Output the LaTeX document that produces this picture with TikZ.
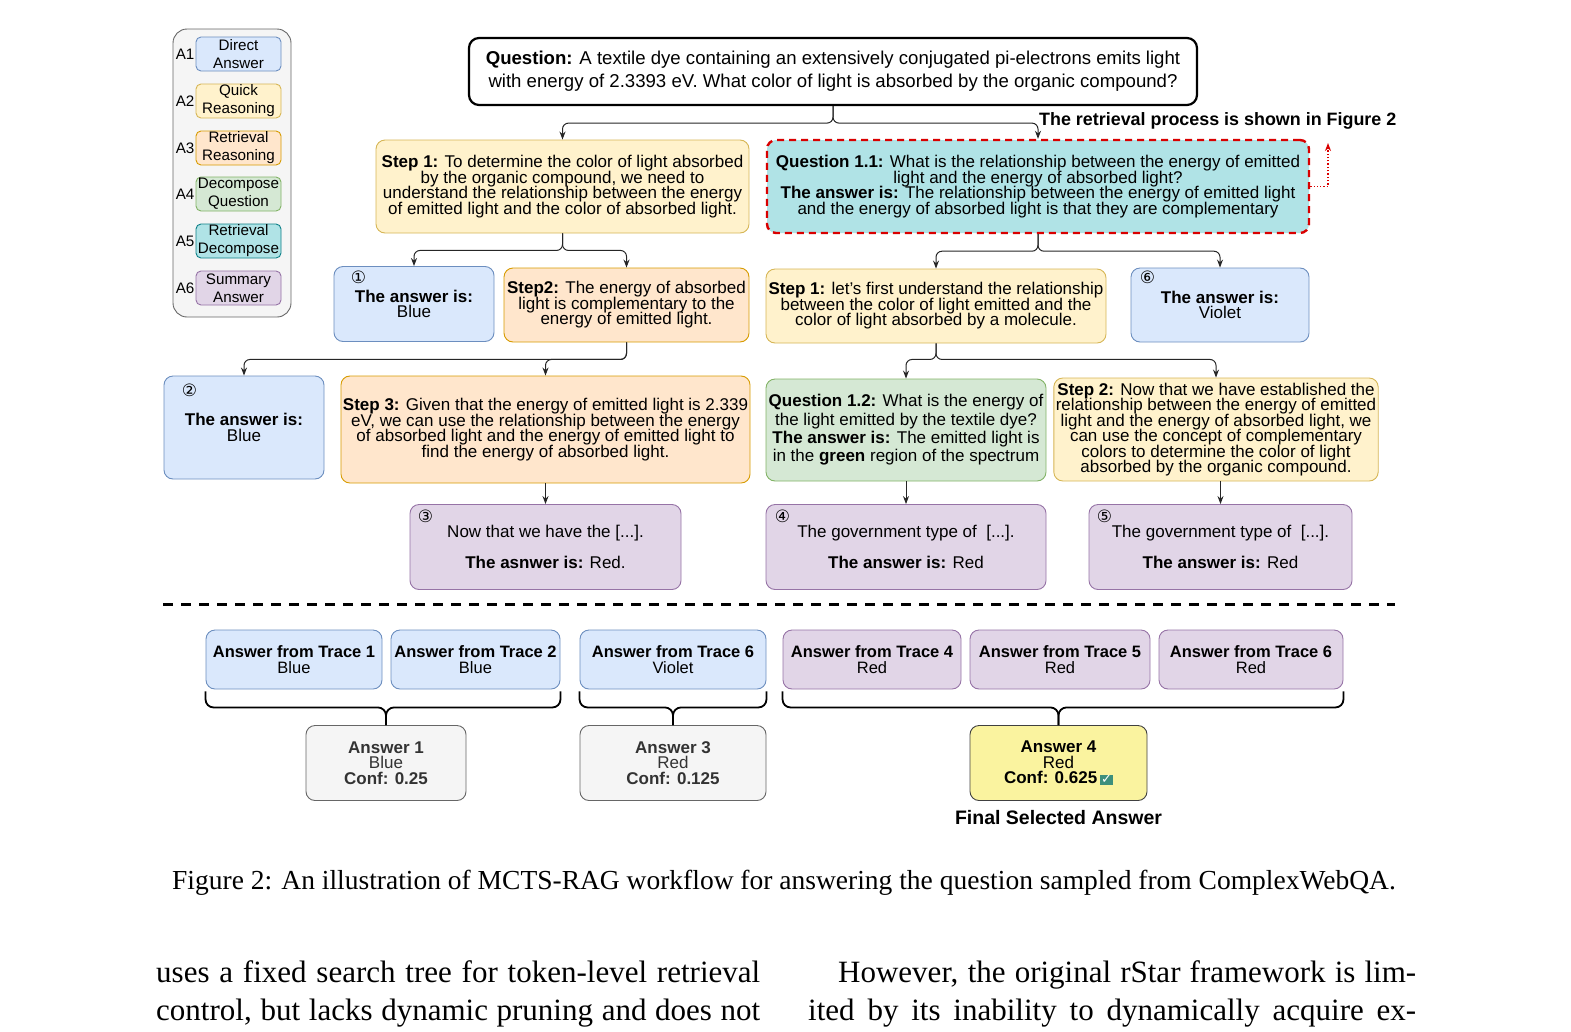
\documentclass[tikz,border=0pt]{standalone}
\usepackage{fontspec}
\setmainfont{Liberation Sans}
\newfontfamily\capfont{Liberation Serif}
\newfontfamily\symfont{DejaVu Sans}
\usepackage{tikz}
\newcommand{\boxfont}{\fontsize{17}{15.5}\selectfont\lineskiplimit=-20pt}
\newcommand{\qfont}{\fontsize{18.6}{23}\selectfont}
\newcommand{\legfont}{\fontsize{15.2}{18}\selectfont}
\newcommand{\numfont}{\symfont\fontsize{17}{17}\selectfont}
\newcommand{\bodyfont}{\capfont\fontsize{31}{38}\selectfont}
\newcommand{\chkbox}{{\setlength{\fboxsep}{1pt}\colorbox{chkGreen}{\color{white}\symfont\fontsize{13}{13}\selectfont ✓}}}
\definecolor{myBlue}{HTML}{DAE8FC}
\definecolor{myBlueLine}{HTML}{6C8EBF}
\definecolor{myYellow}{HTML}{FFF2CC}
\definecolor{myYellowLine}{HTML}{D6B656}
\definecolor{myOrange}{HTML}{FFE6CC}
\definecolor{myOrangeLine}{HTML}{D79B00}
\definecolor{myGreen}{HTML}{D5E8D4}
\definecolor{myGreenLine}{HTML}{82B366}
\definecolor{myTeal}{HTML}{B0E3E6}
\definecolor{myTealLine}{HTML}{0E8088}
\definecolor{myPurple}{HTML}{E1D5E7}
\definecolor{myPurpleLine}{HTML}{9673A6}
\definecolor{myGray}{HTML}{F5F5F5}
\definecolor{myGrayLine}{HTML}{666666}
\definecolor{myFinal}{HTML}{FAF39F}
\definecolor{myRed}{HTML}{D90000}
\definecolor{chkGreen}{HTML}{3D8F7C}
\usetikzlibrary{arrows.meta,calc,positioning}
\pgfdeclarelayer{bg}
\pgfsetlayers{bg,main}
\tikzset{
  >={Stealth[length=8pt,width=6pt]},
  box/.style={draw,shape=rectangle,rounded corners=9pt,align=center,inner sep=2pt,line width=0.9pt,font=\boxfont},
  wh/.style 2 args={minimum width=#1,minimum height=#2},
  bluebox/.style={box,fill=myBlue,draw=myBlueLine},
  yellowbox/.style={box,fill=myYellow,draw=myYellowLine},
  orangebox/.style={box,fill=myOrange,draw=myOrangeLine},
  greenbox/.style={box,fill=myGreen,draw=myGreenLine},
  tealbox/.style={box,fill=myTeal,draw=myTealLine},
  purplebox/.style={box,fill=myPurple,draw=myPurpleLine},
  graybox/.style={box,fill=myGray,draw=myGrayLine,text=black!80},
  legbox/.style={wh={85pt}{34pt},rounded corners=5pt,inner sep=0pt,font=\legfont},
  tracebox/.style={wh={#1}{59pt},font=\fontsize{16.5}{16}\selectfont},
  num/.style={inner sep=0pt,font=\numfont},
  line/.style={draw,->,line width=1pt,black!85,rounded corners=6pt},
  brace/.style={draw,line width=1.8pt,rounded corners=8pt},
}

\begin{document}
\begin{tikzpicture}[x=1pt,y=1pt]
  \useasboundingbox (0,0) rectangle (1571,-1031);

  % legend
  \node (la1) [bluebox,legbox] at (238.5,-54) {Direct\\Answer};
  \node (la2) [yellowbox,legbox] at (238.5,-101) {Quick\\Reasoning};
  \node (la3) [orangebox,legbox] at (238.5,-148) {Retrieval\\Reasoning};
  \node (la4) [greenbox,legbox] at (238.5,-194) {Decompose\\Question};
  \node (la5) [tealbox,legbox] at (238.5,-241) {Retrieval\\Decompose};
  \node (la6) [purplebox,legbox] at (238.5,-288) {Summary\\Answer};
  \node (lb1) [left=1pt of la1,inner sep=0pt,font=\legfont] {A1};
  \node (lb2) [left=1pt of la2,inner sep=0pt,font=\legfont] {A2};
  \node (lb3) [left=1pt of la3,inner sep=0pt,font=\legfont] {A3};
  \node (lb4) [left=1pt of la4,inner sep=0pt,font=\legfont] {A4};
  \node (lb5) [left=1pt of la5,inner sep=0pt,font=\legfont] {A5};
  \node (lb6) [left=1pt of la6,inner sep=0pt,font=\legfont] {A6};
  \begin{pgfonlayer}{bg}
    \node (legend) [draw=myGrayLine,fill=myGray,rounded corners=14pt,line width=0.9pt,wh={118pt}{288pt}] at (232,-173) {};
  \end{pgfonlayer}

  % question and first level
  \node (q) [box,draw=black,fill=white,line width=2.2pt,rounded corners=10pt,wh={728pt}{67pt},font=\qfont] at (833,-71.5)
    {\textbf{Question:} A textile dye containing an extensively conjugated pi-electrons emits light\\with energy of 2.3393 eV. What color of light is absorbed by the organic compound?};
  \node (s1) [yellowbox,wh={373pt}{93pt}] at (562.5,-186.5)
    {\textbf{Step 1:} To determine the color of light absorbed\\by the organic compound, we need to\\understand the relationship between the energy\\of emitted light and the color of absorbed light.};
  \node (q11) [tealbox,draw=myRed,line width=2.4pt,dash pattern=on 7pt off 5pt,wh={542pt}{93pt}] at (1038,-186.5)
    {\textbf{Question 1.1:} What is the relationship between the energy of emitted\\light and the energy of absorbed light?\\\textbf{The answer is:} The relationship between the energy of emitted light\\and the energy of absorbed light is that they are complementary};
  \node (rlabel) [anchor=west,inner sep=0pt,font=\fontsize{17.9}{20}\selectfont\bfseries] at (1039,-121) {The retrieval process is shown in Figure 2};
  \coordinate (rtip) at (1328,-143);

  % second level
  \node (ans1) [bluebox,wh={160pt}{75pt}] at (414,-304) {\textbf{The answer is:}\\Blue};
  \node (s2) [orangebox,wh={245pt}{74pt}] at (626.5,-305)
    {\textbf{Step2:} The energy of absorbed\\light is complementary to the\\energy of emitted light.};
  \node (r1) [yellowbox,wh={340pt}{74pt}] at (936,-306)
    {\textbf{Step 1:} let's first understand the relationship\\between the color of light emitted and the\\color of light absorbed by a molecule.};
  \node (ans6) [bluebox,wh={178pt}{74pt}] at (1220,-305) {\textbf{The answer is:}\\Violet};

  % third level
  \node (ans2) [bluebox,wh={160pt}{103pt}] at (244,-427.5) {\textbf{The answer is:}\\Blue};
  \node (s3) [orangebox,wh={407pt}{107pt}] at (545.5,-429.5)
    {\textbf{Step 3:} Given that the energy of emitted light is 2.339\\eV, we can use the relationship between the energy\\of absorbed light and the energy of emitted light to\\find the energy of absorbed light.};
  \node (q12) [greenbox,wh={280pt}{102pt},font=\fontsize{17}{18.3}\selectfont] at (906,-430)
    {\textbf{Question 1.2:} What is the energy of\\the light emitted by the textile dye?\\\textbf{The answer is:} The emitted light is\\in the \textbf{green} region of the spectrum};
  \node (r2) [yellowbox,wh={322pt}{103pt}] at (1216,-429.5)
    {\textbf{Step 2:} Now that we have established the\\relationship between the energy of emitted\\light and the energy of absorbed light, we\\can use the concept of complementary\\colors to determine the color of light\\absorbed by the organic compound.};

  % fourth level
  \node (ans3) [purplebox,wh={271pt}{85pt}] at (545.5,-547) {Now that we have the [...].\\[15pt]\textbf{The asnwer is:} Red.};
  \node (ans4) [purplebox,wh={280pt}{85pt}] at (906,-547) {The government type of\ \ [...].\\[15pt]\textbf{The answer is:} Red};
  \node (ans5) [purplebox,wh={263pt}{85pt}] at (1220.5,-547) {The government type of\ \ [...].\\[15pt]\textbf{The answer is:} Red};

  % trace numbers
  \node (c1) [num] at ($(ans1.north west)+(25,-11)$) {①};
  \node (c2) [num] at ($(ans2.north west)+(26,-15)$) {②};
  \node (c3) [num] at ($(ans3.north west)+(16,-12)$) {③};
  \node (c4) [num] at ($(ans4.north west)+(17,-12)$) {④};
  \node (c5) [num] at ($(ans5.north west)+(16,-12)$) {⑤};
  \node (c6) [num] at ($(ans6.north west)+(17,-10)$) {⑥};

  % tree edges
  \path [line] (q.south) -- ++(0,-17) -| (s1.north);
  \path [line] (q.south) -- ++(0,-17) -| (q11.north);
  \path [line] (s1.south) -- ++(0,-17) -| (ans1.north);
  \path [line] (s1.south) -- ++(0,-17) -| (s2.north);
  \path [line] (q11.south) -- ++(0,-17) -| (r1.north);
  \path [line] (q11.south) -- ++(0,-17) -| (ans6.north);
  \path [line] (s2.south) -- ++(0,-17) -| (ans2.north);
  \path [line] (s2.south) -- ++(0,-17) -| (s3.north);
  \path [line] (r1.south) -- ++(0,-16) -| (q12.north);
  \path [line] (r1.south) -- ++(0,-16) -| (r2.north);
  \path [line] (s3.south) -- (ans3.north);
  \path [line] (q12.south) -- (ans4.north);
  \path [line] (r2.south -| ans5.north) -- (ans5.north);
  \draw [->,myRed,line width=1.3pt,dotted] (q11.east) -| (rtip);

  % separator
  \coordinate (dl) at (163,-604);
  \coordinate (dr) at (1395,-604);
  \draw [line width=3pt,dash pattern=on 10pt off 8pt] (dl) -- (dr);

  % answers from traces
  \node (tr1) [bluebox,tracebox=176pt] at (294,-659.5) {\textbf{Answer from Trace 1}\\Blue};
  \node (tr2) [bluebox,tracebox=169pt] at (475.5,-659.5) {\textbf{Answer from Trace 2}\\Blue};
  \node (tr6) [bluebox,tracebox=186pt] at (673,-659.5) {\textbf{Answer from Trace 6}\\Violet};
  \node (tr4) [purplebox,tracebox=178pt] at (872,-659.5) {\textbf{Answer from Trace 4}\\Red};
  \node (tr5) [purplebox,tracebox=180pt] at (1060,-659.5) {\textbf{Answer from Trace 5}\\Red};
  \node (tr6b) [purplebox,tracebox=184pt] at (1251,-659.5) {\textbf{Answer from Trace 6}\\Red};

  \node (fin1) [graybox,wh={160pt}{75pt}] at (386,-763) {\textbf{Answer 1}\\Blue\\\textbf{Conf: 0.25}};
  \node (fin3) [graybox,wh={186pt}{75pt}] at (673,-763) {\textbf{Answer 3}\\Red\\\textbf{Conf: 0.125}};
  \node (fin4) [box,fill=myFinal,draw=black!75,wh={177pt}{75pt}] at (1058.5,-763) {\textbf{Answer 4}\\Red\\\textbf{Conf: 0.625}\,\chkbox};
  \node (fsel) [below=9pt of fin4,inner sep=0pt,font=\fontsize{19.5}{20}\selectfont\bfseries] {Final Selected Answer};

  \path [brace] ([yshift=-2pt]tr1.south west) -- ++(0,-16) -| (fin1.north);
  \path [brace] ([yshift=-2pt]tr2.south east) -- ++(0,-16) -| (fin1.north);
  \path [brace] ([yshift=-2pt]tr6.south west) -- ++(0,-16) -| (fin3.north);
  \path [brace] ([yshift=-2pt]tr6.south east) -- ++(0,-16) -| (fin3.north);
  \path [brace] ([yshift=-2pt]tr4.south west) -- ++(0,-16) -| (fin4.north);
  \path [brace] ([yshift=-2pt]tr6b.south east) -- ++(0,-16) -| (fin4.north);

  % caption and page text
  \node (cap) [anchor=base,inner sep=0pt,font=\capfont\fontsize{27.5}{33}\selectfont] at (784,-889)
    {Figure 2: An illustration of MCTS-RAG workflow for answering the question sampled from ComplexWebQA.};
  \node (bl1) [anchor=base west,inner sep=0pt,font=\bodyfont] at (156,-982) {\makebox[604pt][s]{uses a fixed search tree for token-level retrieval}};
  \node (bl2) [anchor=base west,inner sep=0pt,font=\bodyfont] at (156,-1020) {\makebox[604pt][s]{control, but lacks dynamic pruning and does not}};
  \node (br1) [anchor=base west,inner sep=0pt,font=\bodyfont] at (838,-982) {\makebox[578pt][s]{However, the original rStar framework is lim-}};
  \node (br2) [anchor=base west,inner sep=0pt,font=\bodyfont] at (808,-1020) {\makebox[608pt][s]{ited by its inability to dynamically acquire ex-}};
\end{tikzpicture}
\end{document}
